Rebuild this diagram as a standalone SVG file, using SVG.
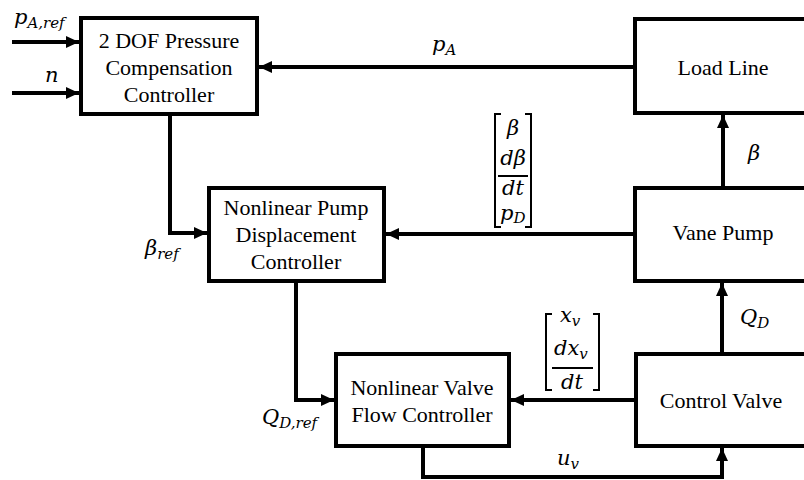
<svg xmlns="http://www.w3.org/2000/svg" width="804" height="480" viewBox="0 0 804 480">
<defs>
<marker id="ah" markerUnits="userSpaceOnUse" markerWidth="14" markerHeight="14" viewBox="0 0 14 14" refX="13" refY="7" orient="auto">
<path d="M0,1 L13,7 L0,13 Z" fill="#000"/>
</marker>
</defs>
<style>
.box{fill:#fff;stroke:#000;stroke-width:4}
.w{fill:none;stroke:#000;stroke-width:4}
.br{fill:none;stroke:#000;stroke-width:2}
.t{font-family:"Liberation Serif","Times New Roman",serif;font-size:22px;text-anchor:middle;fill:#000}
.m{font-family:"DejaVu Serif",serif;font-style:italic;font-size:21px;fill:#000}
.c{text-anchor:middle}
.s{font-size:15px}
</style>
<rect width="804" height="480" fill="#fff"/>
<g id="connectors">
<path class="w" d="M12,42 H79" marker-end="url(#ah)"/>
<path class="w" d="M12,93 H79" marker-end="url(#ah)"/>
<path class="w" d="M635,67 H259" marker-end="url(#ah)"/>
<path class="w" d="M170,114 V233 H207" marker-end="url(#ah)"/>
<path class="w" d="M635,234 H386" marker-end="url(#ah)"/>
<path class="w" d="M723,188 V115" marker-end="url(#ah)"/>
<path class="w" d="M296,281 V400 H334" marker-end="url(#ah)"/>
<path class="w" d="M636,400 H511" marker-end="url(#ah)"/>
<path class="w" d="M722,354 V283" marker-end="url(#ah)"/>
<path class="w" d="M423,446 V477 H722 V448" marker-end="url(#ah)"/>
</g>
<g id="node-pressure">
<rect class="box" x="81" y="18" width="176" height="96"/>
<text class="t" x="169" y="48">2 DOF Pressure</text>
<text class="t" x="169" y="75">Compensation</text>
<text class="t" x="169" y="102">Controller</text>
</g>
<g id="node-loadline">
<rect class="box" x="635" y="19" width="180" height="94"/>
<text class="t" x="723" y="75">Load Line</text>
</g>
<g id="node-pump-ctrl">
<rect class="box" x="209" y="188" width="175" height="93"/>
<text class="t" x="296" y="215">Nonlinear Pump</text>
<text class="t" x="296" y="242">Displacement</text>
<text class="t" x="296" y="269">Controller</text>
</g>
<g id="node-vanepump">
<rect class="box" x="635" y="188" width="180" height="93"/>
<text class="t" x="723" y="240">Vane Pump</text>
</g>
<g id="node-valve-ctrl">
<rect class="box" x="336" y="354" width="173" height="92"/>
<text class="t" x="422" y="395">Nonlinear Valve</text>
<text class="t" x="422" y="422">Flow Controller</text>
</g>
<g id="node-controlvalve">
<rect class="box" x="636" y="354" width="180" height="92"/>
<text class="t" x="721" y="408">Control Valve</text>
</g>
<g id="labels">
<text class="m" x="14" y="24">p<tspan class="s" dy="4">A,ref</tspan></text>
<text class="m" x="45" y="82">n</text>
<text class="m" x="432" y="51">p<tspan class="s" dy="4">A</tspan></text>
<text class="m" x="748" y="160">β</text>
<text class="m" x="145" y="255">β<tspan class="s" dy="4">ref</tspan></text>
<text class="m" x="740" y="324">Q<tspan class="s" dy="4">D</tspan></text>
<text class="m" x="262" y="424">Q<tspan class="s" dy="4">D,ref</tspan></text>
<text class="m" x="557" y="465">u<tspan class="s" dy="4">v</tspan></text>
</g>
<g id="vector-pump">
<path class="br" d="M501,114 H495 V227 H501 M525,114 H531 V227 H525 M498,176 H528"/>
<text class="m c" x="513" y="135">β</text>
<text class="m c" x="513" y="165">dβ</text>
<text class="m c" x="513" y="195">dt</text>
<text class="m" x="500" y="220">p<tspan class="s" dy="3">D</tspan></text>
</g>
<g id="vector-valve">
<path class="br" d="M552,314 H546 V390 H552 M593,314 H599 V390 H593 M552,368 H593"/>
<text class="m" x="560" y="322">x<tspan class="s" dy="4">v</tspan></text>
<text class="m" x="554" y="355">dx<tspan class="s" dy="4">v</tspan></text>
<text class="m c" x="572" y="389">dt</text>
</g>
</svg>
